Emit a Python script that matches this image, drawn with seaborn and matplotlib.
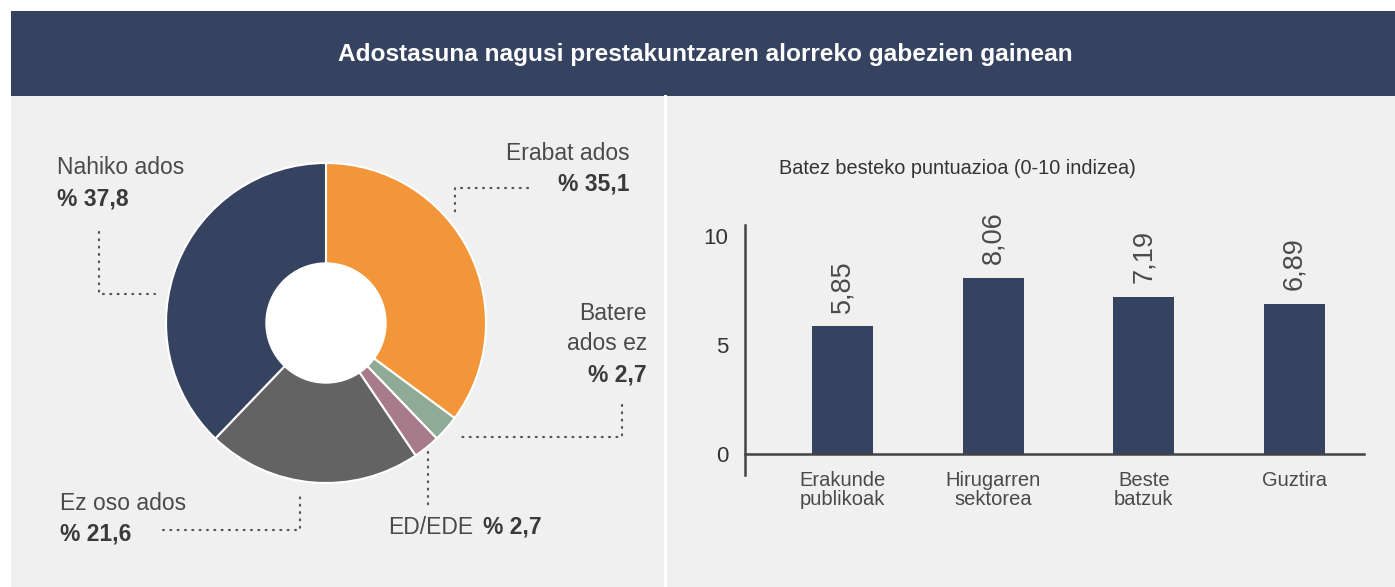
import matplotlib
matplotlib.use("Agg")
import matplotlib.pyplot as plt
from matplotlib.patches import Rectangle, Circle
import seaborn as sns

# data
title = "Adostasuna nagusi prestakuntzaren alorreko gabezien gainean"
bar_title = "Batez besteko puntuazioa (0-10 indizea)"

pie_labels = ["Erabat ados", "Batere\nados ez", "ED/EDE", "Ez oso ados", "Nahiko ados"]
pie_values = [35.1, 2.7, 2.7, 21.6, 37.8]
pie_colors = ["#f39539", "#8fab96", "#a87b8b", "#636363", "#354260"]

bar_categories = ["Erakunde\npublikoak", "Hirugarren\nsektorea", "Beste\nbatzuk", "Guztira"]
bar_values = [5.85, 8.06, 7.19, 6.89]
y_ticks = [0, 5, 10]

navy = "#354260"
bg_gray = "#f0f0f0"
txt = "#4a4a4a"
txt_bold = "#3a3a3a"

plt.rcParams["font.family"] = ["Liberation Sans", "DejaVu Sans"]

W, H = 1395, 587
fig = plt.figure(figsize=(W / 100, H / 100), dpi=100, facecolor="white")


def box(x0, y0, x1, y1):
    # pixel box -> figure fraction
    return [x0 / W, 1 - y1 / H, (x1 - x0) / W, (y1 - y0) / H]


# background layer in pixel coords
bg = fig.add_axes([0, 0, 1, 1], zorder=0)
bg.set_xlim(0, W)
bg.set_ylim(H, 0)
bg.axis("off")
bg.add_patch(Rectangle((11, 96), W - 11, H - 96, color=bg_gray, lw=0))
bg.add_patch(Rectangle((11, 11), W - 11, 85, color=navy, lw=0))
bg.plot([665, 665], [96, H], color="white", lw=2.2)
bg.text(705, 55, title, color="white", fontsize=17.6, fontweight="bold",
        ha="center", va="center")

# donut
cx, cy, r = 326, 323, 160
pax = fig.add_axes(box(cx - 170, cy - 170, cx + 170, cy + 170), zorder=1)
pax.pie(pie_values, colors=pie_colors, startangle=90, counterclock=False,
        radius=1, wedgeprops=dict(edgecolor="white", linewidth=1.5))
pax.add_patch(Circle((0, 0), 60 / 160, color="white", zorder=5))
pax.set_xlim(-170 / 160, 170 / 160)
pax.set_ylim(-170 / 160, 170 / 160)
pax.set_aspect("equal")
pax.axis("off")

# labels: positions (x, first line y, alignment)
label_pos = {
    "Erabat ados": (630, 153, "right"),
    "Batere\nados ez": (647, 313, "right"),
    "Ez oso ados": (60, 503, "left"),
    "Nahiko ados": (57, 168, "left"),
}
for lab, val in zip(pie_labels, pie_values):
    pct = "% " + f"{val:.1f}".replace(".", ",")
    if lab == "ED/EDE":
        t = bg.text(388, 527, lab, color=txt, fontsize=16.5, ha="left", va="center")
        bg.annotate(pct, xy=(1, 0), xycoords=t, xytext=(7, 0),
                    textcoords="offset points", color=txt_bold, fontsize=16.5,
                    fontweight="bold", ha="left", va="bottom")
        continue
    x, y, ha = label_pos[lab]
    lines = lab.split("\n")
    for i, ln in enumerate(lines):
        bg.text(x, y + 31 * i, ln, color=txt, fontsize=16.5, ha=ha, va="center")
    bg.text(x, y + 31 * len(lines), pct, color=txt_bold, fontsize=16.5,
            fontweight="bold", ha=ha, va="center")

leaders = [
    ([99, 99, 155], [232, 294, 294]),
    ([528, 455, 455], [188, 188, 215]),
    ([622, 622, 460], [405, 437, 437]),
    ([428, 428], [452, 505]),
    ([163, 300, 300], [530, 530, 492]),
]
for xs, ys in leaders:
    bg.plot(xs, ys, color="#555555", lw=1.6, linestyle=(0, (0.4, 2.9)),
            dash_capstyle="round")

# bar chart
bg.text(957, 168, bar_title, color="#333333", fontsize=14.3, ha="center",
        va="center")

bax = fig.add_axes(box(745, 225, 1364, 475), zorder=1)
bax.patch.set_alpha(0)
sns.barplot(x=bar_categories, y=bar_values, color=navy, width=0.405,
            saturation=1, ax=bax)
bax.set_xlim(-0.647, 3.461)
bax.set_ylim(-0.963, 10.5)
for s in ["top", "right"]:
    bax.spines[s].set_visible(False)
bax.spines["left"].set_color("#444444")
bax.spines["left"].set_linewidth(1.8)
bax.spines["bottom"].set_position(("data", 0))
bax.spines["bottom"].set_color("#444444")
bax.spines["bottom"].set_linewidth(1.8)
bax.set_yticks(y_ticks)
bax.tick_params(axis="y", length=0, pad=12, labelsize=16, labelcolor="#333333")
bax.tick_params(axis="x", length=0, pad=12, labelsize=14.5, labelcolor=txt)
for lbl in bax.get_xticklabels():
    lbl.set_linespacing(1.05)
for p, v in zip(bax.patches, bar_values):
    bax.annotate(f"{v:.2f}".replace(".", ","),
                 xy=(p.get_x() + p.get_width() / 2, p.get_height()),
                 xytext=(0, 10), textcoords="offset points", rotation=90,
                 ha="center", va="bottom", fontsize=19.5, color=txt)
bax.set_xlabel("")
bax.set_ylabel("")

fig.savefig("out.png", dpi=100, facecolor="white")
